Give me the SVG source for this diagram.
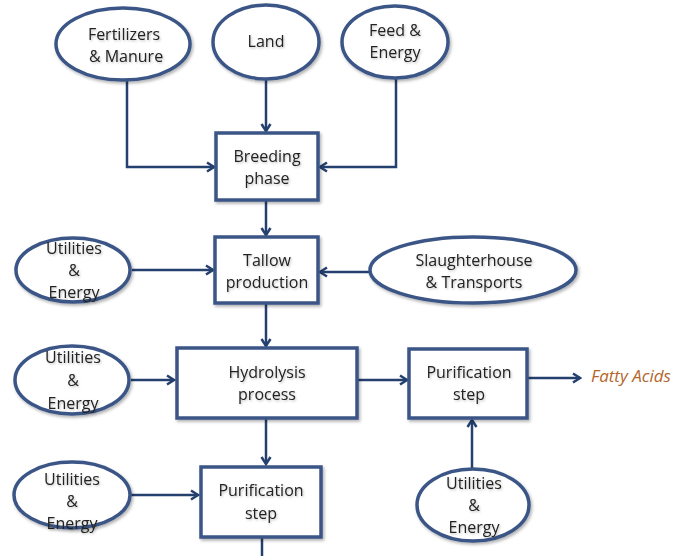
<svg xmlns="http://www.w3.org/2000/svg" width="683" height="556" viewBox="0 0 683 556">
  <defs>
    <marker id="arrow" markerWidth="12" markerHeight="12" refX="10" refY="6" orient="auto" markerUnits="userSpaceOnUse">
      <polyline points="3,1.5 10,6 3,10.5" fill="none" stroke="#24406e" stroke-width="2.5" stroke-linejoin="miter"/>
    </marker>
    <filter id="shadow" x="-10%" y="-10%" width="125%" height="130%">
      <feDropShadow dx="1.5" dy="2" stdDeviation="1.5" flood-color="#000" flood-opacity="0.3"/>
    </filter>
    <filter id="tshadow" x="-5%" y="-10%" width="115%" height="140%">
      <feDropShadow dx="1" dy="1.2" stdDeviation="0.8" flood-color="#000" flood-opacity="0.25"/>
    </filter>
  </defs>
  <style>
    .node { fill: #ffffff; stroke: #3b5686; stroke-width: 3.5; filter: url(#shadow); }
    .lbl { font-family: "Open Sans", "Liberation Sans", sans-serif; font-size: 16px; fill: #222222; text-anchor: middle; filter: url(#tshadow); }
    .edge { fill: none; stroke: #24406e; stroke-width: 2.5; }
    .out { font-family: "Open Sans", "Liberation Sans", sans-serif; font-size: 17px; font-style: italic; fill: #b4652a; }
  </style>
  <rect width="683" height="556" fill="#ffffff"/>

  <g id="connectors">
    <polyline class="edge" points="127,80 127,167 214,167" marker-end="url(#arrow)"/>
    <polyline class="edge" points="266,80 266,131" marker-end="url(#arrow)"/>
    <polyline class="edge" points="396,78 396,167 320,167" marker-end="url(#arrow)"/>
    <polyline class="edge" points="266,200 266,235" marker-end="url(#arrow)"/>
    <polyline class="edge" points="132,270 213,270" marker-end="url(#arrow)"/>
    <polyline class="edge" points="370,272 320,272" marker-end="url(#arrow)"/>
    <polyline class="edge" points="266,303 266,346" marker-end="url(#arrow)"/>
    <polyline class="edge" points="131,380 174,380" marker-end="url(#arrow)"/>
    <polyline class="edge" points="357,380 407,380" marker-end="url(#arrow)"/>
    <polyline class="edge" points="527,378 580,378" marker-end="url(#arrow)"/>
    <polyline class="edge" points="266,418 266,464" marker-end="url(#arrow)"/>
    <polyline class="edge" points="131,495 198,495" marker-end="url(#arrow)"/>
    <polyline class="edge" points="472,469 472,420" marker-end="url(#arrow)"/>
    <polyline class="edge" points="262,538 262,556"/>
  </g>

  <g id="fertilizers">
    <ellipse class="node" cx="123" cy="44" rx="67" ry="36"/>
    <text class="lbl" x="124" y="40">Fertilizers</text>
    <text class="lbl" x="126" y="62">&amp; Manure</text>
  </g>
  <g id="land">
    <ellipse class="node" cx="266" cy="42" rx="53" ry="37"/>
    <text class="lbl" x="266" y="47">Land</text>
  </g>
  <g id="feed">
    <ellipse class="node" cx="395" cy="42" rx="53" ry="36"/>
    <text class="lbl" x="395" y="36">Feed &amp;</text>
    <text class="lbl" x="395" y="58">Energy</text>
  </g>
  <g id="breeding">
    <rect class="node" x="216" y="133" width="102" height="67"/>
    <text class="lbl" x="267" y="162">Breeding</text>
    <text class="lbl" x="267" y="184">phase</text>
  </g>
  <g id="utilities1">
    <ellipse class="node" cx="73" cy="270" rx="57" ry="32"/>
    <text class="lbl" x="74" y="254">Utilities</text>
    <text class="lbl" x="74" y="276">&amp;</text>
    <text class="lbl" x="74" y="298">Energy</text>
  </g>
  <g id="tallow">
    <rect class="node" x="215" y="237" width="103" height="66"/>
    <text class="lbl" x="267" y="266">Tallow</text>
    <text class="lbl" x="267" y="288">production</text>
  </g>
  <g id="slaughterhouse">
    <ellipse class="node" cx="473" cy="270" rx="103" ry="33"/>
    <text class="lbl" x="474" y="266">Slaughterhouse</text>
    <text class="lbl" x="474" y="288">&amp; Transports</text>
  </g>
  <g id="utilities2">
    <ellipse class="node" cx="72" cy="380" rx="57" ry="34"/>
    <text class="lbl" x="73" y="363">Utilities</text>
    <text class="lbl" x="73" y="386">&amp;</text>
    <text class="lbl" x="73" y="409">Energy</text>
  </g>
  <g id="hydrolysis">
    <rect class="node" x="177" y="348" width="180" height="70"/>
    <text class="lbl" x="267" y="378">Hydrolysis</text>
    <text class="lbl" x="267" y="400">process</text>
  </g>
  <g id="purification1">
    <rect class="node" x="409" y="349" width="118" height="69"/>
    <text class="lbl" x="469" y="378">Purification</text>
    <text class="lbl" x="469" y="400">step</text>
  </g>
  <g id="fatty-acids">
    <text class="out" x="591" y="382">Fatty Acids</text>
  </g>
  <g id="utilities3">
    <ellipse class="node" cx="72" cy="495" rx="58" ry="33"/>
    <text class="lbl" x="72" y="485">Utilities</text>
    <text class="lbl" x="72" y="507">&amp;</text>
    <text class="lbl" x="72" y="529">Energy</text>
  </g>
  <g id="purification2">
    <rect class="node" x="201" y="467" width="120" height="70"/>
    <text class="lbl" x="261" y="496">Purification</text>
    <text class="lbl" x="261" y="519">step</text>
  </g>
  <g id="utilities4">
    <ellipse class="node" cx="473" cy="505" rx="56" ry="36"/>
    <text class="lbl" x="474" y="489">Utilities</text>
    <text class="lbl" x="474" y="511">&amp;</text>
    <text class="lbl" x="474" y="533">Energy</text>
  </g>
</svg>
